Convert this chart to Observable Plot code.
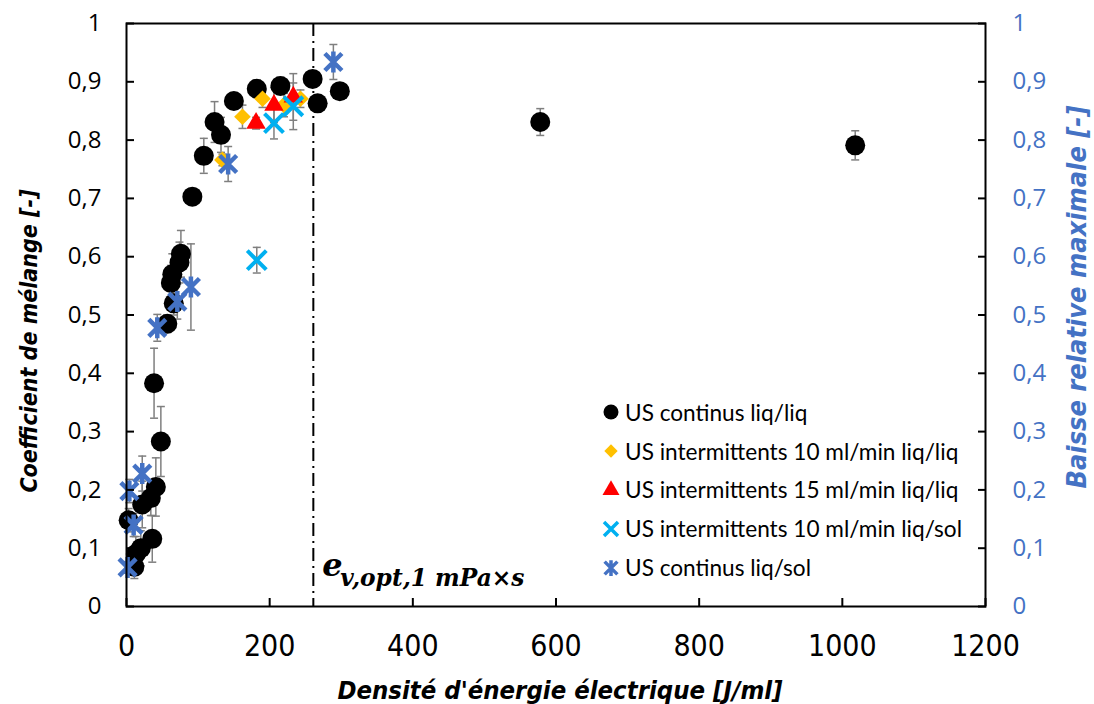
<!DOCTYPE html>
<html>
<head>
<meta charset="utf-8">
<script src="https://cdn.jsdelivr.net/npm/d3@7"></script>
<script src="https://cdn.jsdelivr.net/npm/@observablehq/plot@0.6"></script>
<style>
  html, body { margin: 0; padding: 0; background: #fff; }
  #wrap { position: relative; width: 1094px; height: 704px; overflow: hidden; }
  .ttl { position: absolute; white-space: nowrap; font-weight: bold; font-style: italic;
         font-family: "Liberation Sans Narrow", "DejaVu Sans Condensed", Lato, sans-serif; }
  #legend { position: absolute; left: 600px; top: 393px; font-family: Lato, "Open Sans", sans-serif; color: #000; }
  .lrow { height: 38.8px; display: flex; align-items: center; white-space: nowrap; }
  .lrow svg { width: 22px; height: 22px; flex: none; margin-right: 3px; }
  .lrow span { display: inline-block; }
</style>
</head>
<body>
<div id="wrap"></div>
<script>
// ---------- data ----------
const seriesNames = [
  "US continus liq/liq",
  "US intermittents 10 ml/min liq/liq",
  "US intermittents 15 ml/min liq/liq",
  "US intermittents 10 ml/min liq/sol",
  "US continus liq/sol"
];
// US continus liq/liq (black circles)
const contLiqX = [3, 11, 13, 20, 22, 34, 36, 41, 38.5, 48, 57, 66, 62, 64, 74, 76, 92, 108, 123, 132, 150, 182, 215, 260, 267, 298, 578, 1018];
const contLiqY = [0.148, 0.068, 0.09, 0.10, 0.175, 0.186, 0.116, 0.205, 0.383, 0.283, 0.485, 0.52, 0.555, 0.57, 0.59, 0.605, 0.703, 0.773, 0.831, 0.809, 0.867, 0.888, 0.893, 0.905, 0.863, 0.884, 0.831, 0.791];
const contLiqErr = [0.02, 0.02, 0.03, 0.03, 0.04, 0.03, 0.04, 0.05, 0.06, 0.06, 0.015, 0.02, 0.03, 0.035, 0.035, 0.04, 0.01, 0.03, 0.035, 0.03, 0.01, 0.015, 0.015, 0.01, 0.01, 0.01, 0.023, 0.025];
// US intermittents 10 ml/min liq/liq (yellow diamonds)
const int10LiqX = [134, 162, 190, 220, 243];
const int10LiqY = [0.766, 0.84, 0.871, 0.86, 0.871];
const int10LiqErr = [0.01, 0.02, 0.015, 0.02, 0.015];
// US intermittents 15 ml/min liq/liq (red triangles)
const int15LiqX = [181, 206, 233];
const int15LiqY = [0.829, 0.86, 0.874];
const int15LiqErr = [0.01, 0.03, 0.04];
// US intermittents 10 ml/min liq/sol (cyan crosses)
const int10SolX = [182, 206, 233];
const int10SolY = [0.594, 0.829, 0.858];
const int10SolErr = [0.022, 0.027, 0.04];
// US continus liq/sol (blue stars)
const contSolX = [1.5, 4, 10, 22, 43, 71, 90, 142, 289];
const contSolY = [0.067, 0.198, 0.14, 0.228, 0.478, 0.523, 0.548, 0.759, 0.934];
const contSolErr = [0.01, 0.02, 0.02, 0.03, 0.023, 0.03, 0.074, 0.03, 0.03];

const eOpt = 261; // optimum energy density marker [J/ml]

const xTicks = [0, 200, 400, 600, 800, 1000, 1200];
const xTickLabels = ["0", "200", "400", "600", "800", "1000", "1200"];
const yTicks = [0, 0.1, 0.2, 0.3, 0.4, 0.5, 0.6, 0.7, 0.8, 0.9, 1];
const yTickLabels = ["0", "0,1", "0,2", "0,3", "0,4", "0,5", "0,6", "0,7", "0,8", "0,9", "1"];

const xTitle = "Densité d'énergie électrique [J/ml]";
const yTitle = "Coefficient de mélange [-]";
const y2Title = "Baisse relative maximale [-]";
const annotMain = "e";
const annotSub = "v,opt,1 mPa×s";

// ---------- styles ----------
const BLUE = "#4472C4";
const colors = ["#000000", "#FFC000", "#FF0000", "#00B0F0", BLUE];

const symX = { draw(ctx, size) { const r = Math.sqrt(size / Math.PI);
  ctx.moveTo(-r, -r); ctx.lineTo(r, r); ctx.moveTo(-r, r); ctx.lineTo(r, -r); } };
const symStar = { draw(ctx, size) { const r = Math.sqrt(size / Math.PI); const a = r * 0.85;
  ctx.moveTo(-a, -a); ctx.lineTo(a, a); ctx.moveTo(-a, a); ctx.lineTo(a, -a);
  ctx.moveTo(0, -r * 1.05); ctx.lineTo(0, r * 1.05); } };
const symCap = { draw(ctx, size) { const r = Math.sqrt(size / Math.PI); ctx.moveTo(-r, 0); ctx.lineTo(r, 0); } };

function rows(xs, ys, es, s) { return xs.map((x, i) => ({ x, y: ys[i], e: es[i], s })); }
const sContLiq = rows(contLiqX, contLiqY, contLiqErr, 0);
const sInt10Liq = rows(int10LiqX, int10LiqY, int10LiqErr, 1);
const sInt15Liq = rows(int15LiqX, int15LiqY, int15LiqErr, 2);
const sInt10Sol = rows(int10SolX, int10SolY, int10SolErr, 3);
const sContSol = rows(contSolX, contSolY, contSolErr, 4);
const all = [...sContLiq, ...sInt10Liq, ...sInt15Liq, ...sInt10Sol, ...sContSol];

const ERR = "#7F7F7F";
const chart = Plot.plot({
  width: 1094, height: 704,
  marginLeft: 126, marginRight: 109, marginTop: 23, marginBottom: 98,
  x: { domain: [0, 1200] },
  y: { domain: [0, 1] },
  style: { background: "white", fontFamily: "'Open Sans', sans-serif", overflow: "visible" },
  marks: [
    Plot.ruleX([eOpt], { stroke: "black", strokeWidth: 2, strokeDasharray: "13,5,2,5" }),
    // error bars
    Plot.ruleX(all, { x: "x", y1: d => d.y - d.e, y2: d => d.y + d.e, stroke: ERR, strokeWidth: 1.5 }),
    Plot.dot(all, { x: "x", y: d => d.y + d.e, symbol: symCap, r: 4, stroke: ERR, strokeWidth: 1.5, fill: "none" }),
    Plot.dot(all, { x: "x", y: d => d.y - d.e, symbol: symCap, r: 4, stroke: ERR, strokeWidth: 1.5, fill: "none" }),
    // markers
    Plot.dot(sContLiq, { x: "x", y: "y", r: 10, fill: colors[0], stroke: "none" }),
    Plot.dot(sInt10Liq, { x: "x", y: "y", symbol: "diamond2", r: 7.5, fill: colors[1], stroke: "none" }),
    Plot.dot(sInt15Liq, { x: "x", y: "y", symbol: "triangle", r: 7.2, fill: colors[2], stroke: "none" }),
    Plot.dot(sInt10Sol, { x: "x", y: "y", symbol: symX, r: 9.5, fill: "none", stroke: colors[3], strokeWidth: 4 }),
    Plot.dot(sContSol, { x: "x", y: "y", symbol: symStar, r: 10, fill: "none", stroke: colors[4], strokeWidth: 4.5 }),
    // frame and axes
    Plot.frame({ stroke: "black", strokeWidth: 2 }),
    Plot.axisX(xTicks, { anchor: "bottom", tickSize: -8, tickPadding: 36, strokeWidth: 2,
      tickFormat: d => xTickLabels[xTicks.indexOf(d)], label: null,
      fontSize: 30, fontFamily: "'Liberation Sans Narrow', 'DejaVu Sans Condensed', sans-serif" }),
    Plot.axisY(yTicks, { anchor: "left", tickSize: -8, tickPadding: 33, strokeWidth: 2,
      tickFormat: d => yTickLabels[yTicks.indexOf(d)], label: null,
      fontSize: 24, fontFamily: "'Open Sans', sans-serif" }),
    Plot.axisY(yTicks, { anchor: "right", tickSize: -8, tickPadding: 35, strokeWidth: 2,
      stroke: "black", fill: BLUE,
      tickFormat: d => yTickLabels[yTicks.indexOf(d)], label: null,
      fontSize: 24, fontFamily: "'Open Sans', sans-serif" }),
    // annotation
    Plot.text([annotMain], { x: () => eOpt, frameAnchor: "bottom", dx: 9, dy: -31, text: d => d,
      textAnchor: "start", fontSize: 32, fontWeight: "bold", fontStyle: "italic",
      fontFamily: "'DejaVu Serif', serif", fill: "black" }),
    Plot.text([annotSub], { x: () => eOpt, frameAnchor: "bottom", dx: 27, dy: -21, text: d => d,
      textAnchor: "start", fontSize: 23.3, fontWeight: "bold", fontStyle: "italic",
      fontFamily: "'DejaVu Serif', serif", fill: "black" })
  ]
});

const wrap = document.getElementById("wrap");
wrap.appendChild(chart);

// axis titles (HTML overlays)
function addTitle(text, cx, cy, target, rotate, color) {
  const el = document.createElement("div");
  el.className = "ttl";
  el.textContent = text;
  el.style.fontSize = "24px";
  el.style.color = color || "#000";
  wrap.appendChild(el);
  const w = el.offsetWidth;
  el.style.fontSize = (24 * target / w) + "px";
  el.style.left = cx + "px";
  el.style.top = cy + "px";
  el.style.transform = "translate(-50%, -50%)" + (rotate ? " rotate(-90deg)" : "");
  return el;
}
addTitle(xTitle, 560, 690, 445, false);
addTitle(yTitle, 29, 341, 303, true);
addTitle(y2Title, 1076, 297, 383, true, BLUE);

// legend
const legend = document.createElement("div");
legend.id = "legend";
const legSyms = [
  { type: d3.symbolCircle, size: Math.PI * 7.5 * 7.5, fill: colors[0] },
  { type: d3.symbolDiamond2, size: Math.PI * 6 * 6, fill: colors[1] },
  { type: d3.symbolTriangle, size: Math.PI * 6.3 * 6.3, fill: colors[2] },
  { type: symX, size: Math.PI * 7 * 7, stroke: colors[3], sw: 3.5 },
  { type: symStar, size: Math.PI * 7.5 * 7.5, stroke: colors[4], sw: 3.5 }
];
const spans = [];
seriesNames.forEach((name, i) => {
  const row = document.createElement("div");
  row.className = "lrow";
  const s = legSyms[i];
  const path = d3.symbol(s.type, s.size)();
  row.innerHTML = `<svg viewBox="-11 -11 22 22"><path d="${path}" fill="${s.fill || "none"}" stroke="${s.stroke || "none"}" stroke-width="${s.sw || 0}"/></svg>`;
  const sp = document.createElement("span");
  sp.textContent = name;
  row.appendChild(sp);
  legend.appendChild(row);
  spans.push(sp);
});
wrap.appendChild(legend);
legend.style.fontSize = "20px";
const longest = spans[3].offsetWidth;
legend.style.fontSize = (20 * 337 / longest) + "px";
</script>
</body>
</html>
